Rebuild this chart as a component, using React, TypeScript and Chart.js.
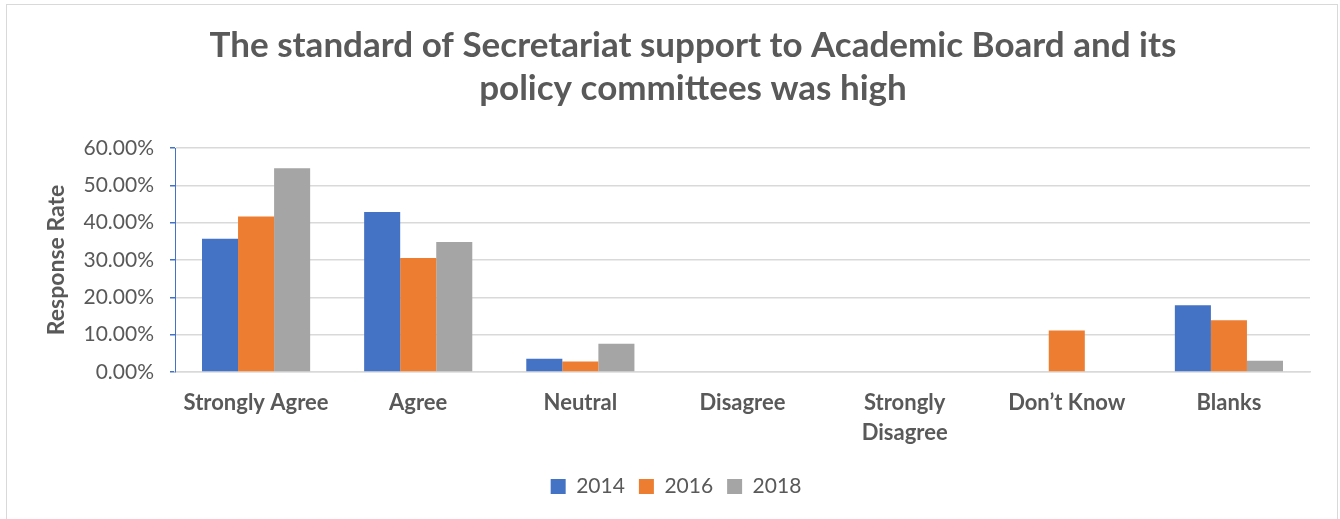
import React, { useEffect, useRef } from "react";
import { Chart, registerables } from "chart.js";

Chart.register(...registerables);

const categories: (string | string[])[] = [
  "Strongly Agree",
  "Agree",
  "Neutral",
  "Disagree",
  ["Strongly", "Disagree"],
  "Don\u2019t Know",
  "Blanks",
];
const series2014 = [35.71, 42.86, 3.57, 0, 0, 0, 17.86];
const series2016 = [41.67, 30.56, 2.78, 0, 0, 11.11, 13.89];
const series2018 = [54.55, 34.85, 7.58, 0, 0, 0, 3.03];
const seriesLabels = ["2014", "2016", "2018"];
const yTicks = [0, 10, 20, 30, 40, 50, 60];
const titleLines = [
  "The standard of Secretariat support to Academic Board and its",
  "policy committees was high",
];

const TEXT = "#595959";
const FONT = "Lato, 'Open Sans', sans-serif";

export default function App() {
  const ref = useRef<HTMLCanvasElement | null>(null);

  useEffect(() => {
    document.body.style.margin = "0";
    const framePlugin = {
      id: "frameAndTitle",
      afterLayout(chart: any) {
        if (chart.legend) {
          chart.legend.left += 21;
          chart.legend.right += 21;
        }
      },
      beforeDraw(chart: any) {
        const c = chart.ctx;
        c.save();
        c.fillStyle = "#ffffff";
        c.fillRect(0, 0, chart.width, chart.height);
        c.strokeStyle = "#d9d9d9";
        c.lineWidth = 1;
        c.strokeRect(6.5, 4.5, 1331, 530);
        c.restore();
      },
      afterDraw(chart: any) {
        const c = chart.ctx;
        c.save();
        c.fillStyle = TEXT;
        c.font = `bold 35px ${FONT}`;
        c.textAlign = "center";
        c.textBaseline = "middle";
        c.fillText(titleLines[0], 693, 46);
        c.fillText(titleLines[1], 693, 89);
        c.restore();
      },
    };
    const chart = new Chart(ref.current!, {
      type: "bar",
      data: {
        labels: categories,
        datasets: [
          { label: seriesLabels[0], data: series2014, backgroundColor: "#4472C4" },
          { label: seriesLabels[1], data: series2016, backgroundColor: "#ED7D31" },
          { label: seriesLabels[2], data: series2018, backgroundColor: "#A5A5A5" },
        ],
      },
      plugins: [framePlugin],
      options: {
        animation: false,
        responsive: false,
        maintainAspectRatio: false,
        layout: { padding: { left: 0, right: 30, top: 148, bottom: 12 } },
        datasets: {
          bar: { categoryPercentage: 0.667, barPercentage: 1.0 },
        },
        plugins: {
          title: { display: false },
          legend: {
            position: "bottom",
            labels: {
              color: TEXT,
              font: { family: FONT, size: 21 },
              boxWidth: 15,
              boxHeight: 15,
              padding: 14,
            },
          },
          tooltip: { enabled: false },
        },
        scales: {
          x: {
            grid: { display: false },
            border: { color: "#d9d9d9", width: 1.5 },
            ticks: {
              color: TEXT,
              font: { family: FONT, size: 22, weight: "bold", lineHeight: 1.35 },
              padding: 8,
              maxRotation: 0,
              autoSkip: false,
            },
            afterFit(scale: any) {
              scale.height = 90;
            },
          },
          y: {
            min: 0,
            max: 60,
            afterBuildTicks(scale: any) {
              scale.ticks = yTicks.map((v) => ({ value: v }));
            },
            grid: {
              color: "#d9d9d9",
              lineWidth: 1.5,
              tickLength: 5,
              tickColor: "#4472C4",
            },
            border: { display: true, color: "#4472C4" },
            ticks: {
              color: TEXT,
              font: { family: FONT, size: 21 },
              padding: 16,
              callback: (v: any) => Number(v).toFixed(2) + "%",
            },
            title: {
              display: true,
              text: "Response Rate",
              color: TEXT,
              font: { family: FONT, size: 23, weight: "bold" },
              padding: { top: 43, bottom: 0 },
            },
            afterFit(scale: any) {
              scale.width = 175;
            },
          },
        },
      },
    } as any);
    return () => chart.destroy();
  }, []);

  return (
    <div style={{ width: 1340, height: 519, position: "relative" }}>
      <canvas ref={ref} width={1340} height={519} style={{ display: "block" }} />
    </div>
  );
}
